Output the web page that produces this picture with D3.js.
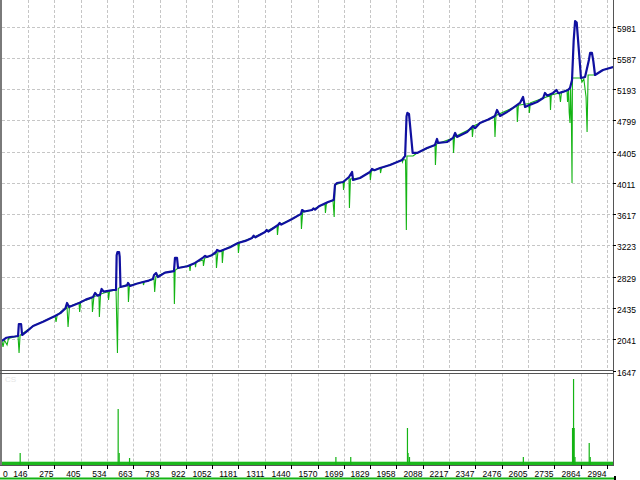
<!DOCTYPE html>
<html><head><meta charset="utf-8">
<script src="https://cdn.jsdelivr.net/npm/d3@7"></script>
<style>
html,body{margin:0;padding:0;background:#fff;}
svg{display:block;}
text{font-family:"Liberation Sans",Arial,sans-serif;font-size:8.5px;fill:#000;}
</style></head><body>
<svg id="c" width="640" height="480"></svg>
<script>
// ---- data ----
const xTickLabels = [0,146,275,405,534,663,793,922,1052,1181,1311,1440,1570,1699,1829,1958,2088,2217,2347,2476,2605,2735,2864,2994];
const yTickLabels = [1647,2041,2435,2829,3223,3617,4011,4405,4799,5193,5587,5981];

// balance (blue) : [trade, value]
const blueLine = [
 [18,2019],[40,2060],[58,2069],[80,2075],[97,2082],[101,2233],[112,2233],[117,2094],[140,2140],[171,2208],[220,2260],[279,2334],
 [305,2370],[330,2430],[338,2498],[348,2447],[400,2500],[430,2540],
 [466,2573],[476,2624],[488,2590],[500,2600],[508,2674],[518,2640],[564,2661],[579,2661],[582,3100],[586,3140],[594,3140],
 [597,3080],[601,2699],[633,2720],[638,2750],[648,2712],[680,2740],[712,2762],[740,2780],[760,2800],[766,2850],[776,2876],[785,2825],[820,2880],
 [864,2900],[869,3065],[879,3065],[884,2938],[930,2960],[968,3002],[1007,3070],[1017,3090],[1025,3077],[1050,3100],[1071,3140],[1076,3166],
 [1090,3150],[1105,3166],[1140,3200],[1179,3254],[1215,3280],[1248,3317],[1256,3345],[1265,3325],[1312,3392],[1320,3418],[1328,3398],
 [1376,3480],[1384,3505],[1392,3485],[1445,3556],[1489,3620],[1494,3669],[1505,3650],
 [1543,3669],[1550,3690],[1558,3675],[1580,3720],[1622,3770],[1650,3795],[1656,3984],[1666,4009],[1696,4022],[1725,4085],[1740,4148],[1745,4047],
 [1779,4072],[1828,4148],[1838,4186],[1850,4170],[1878,4198],[1927,4236],[1986,4299],[2001,4350],[2008,4850],[2012,4892],
 [2020,4880],[2038,4388],[2060,4388],[2109,4451],[2148,4489],[2158,4564],[2163,4514],[2207,4526],[2237,4577],[2247,4640],
 [2256,4590],[2306,4652],[2335,4728],[2345,4700],[2369,4766],[2410,4810],[2443,4854],[2453,4929],[2468,4854],[2500,4900],[2532,4955],[2566,5018],
 [2581,5093],[2591,4967],[2620,5000],[2650,5030],[2680,5080],[2689,5144],[2700,5110],[2729,5144],[2745,5181],[2755,5140],[2780,5160],[2802,5181],
 [2812,5207],[2822,5307],[2830,5800],[2837,6050],[2845,6030],[2855,5700],[2866,5332],[2886,5345],[2905,5560],[2911,5648],
 [2920,5648],[2927,5540],[2935,5370],[2974,5433],[3024,5471]
];

// equity (green) : [trade, value]
const greenLine = [
 [18,2019],[23,1943],[30,2030],[43,1968],[50,2050],[97,2082],[102,1868],[107,2090],[171,2208],[279,2334],[284,2259],[290,2350],
 [338,2447],[343,2195],[350,2455],[397,2500],[400,2384],[405,2510],[461,2560],[463,2384],[470,2575],[495,2600],[497,2321],
 [503,2610],[540,2640],[542,2535],[547,2645],[579,2661],[586,1868],[590,2680],[601,2699],[638,2730],[640,2510],[645,2720],
 [712,2762],[714,2724],[718,2765],[766,2800],[769,2636],[775,2830],[820,2880],[864,2900],[866,2485],[870,2910],[884,2938],
 [940,2970],[943,2900],[946,2975],[968,3002],[970,2950],[973,3010],[1007,3040],[1009,2964],[1015,3060],[1071,3120],[1073,2940],[1080,3140],[1100,3150],[1102,3002],[1107,3166],
 [1179,3254],[1181,3128],[1186,3260],[1248,3317],[1312,3392],[1371,3470],[1373,3354],[1378,3480],[1445,3556],[1489,3620],
 [1491,3430],[1497,3640],[1543,3669],[1592,3732],[1607,3740],[1609,3632],[1614,3755],[1646,3795],[1652,3581],[1656,3984],
 [1696,4022],[1698,3921],[1703,4030],[1725,4085],[1727,3695],[1732,4060],[1779,4072],[1828,4148],[1830,4047],[1835,4160],
 [1878,4198],[1880,4135],[1885,4200],[1986,4299],[1988,4274],[1992,4305],[2003,4300],[2005,3900],[2007,3417],[2010,4350],
 [2040,4350],[2060,4388],[2148,4489],[2150,4236],[2155,4500],[2237,4577],[2239,4388],[2244,4590],[2330,4700],[2332,4590],
 [2337,4728],[2440,4840],[2443,4590],[2448,4860],[2551,4980],[2553,4778],[2558,4990],[2610,5010],[2612,4892],[2617,5020],
 [2714,5110],[2716,4929],[2720,5120],[2760,5144],[2765,5030],[2770,5150],[2797,5181],[2800,5030],[2805,5190],[2808,4900],
 [2812,4766],[2815,5200],[2819,4800],[2822,4009],[2824,5332],[2866,5332],[2871,5282],[2880,5320],[2891,5093],[2896,4652],
 [2901,5370],[2935,5370],[2974,5433],[3024,5471]
];

// lower panel bars
const barTrades = [107,589,594,645,1660,1733,2012,2015,2022,2582,2824,2827,2829,2832,2836,2906,2911];
const barValues = [12,56,12,7,8,8,37,12,8,8,37,37,86,37,8,22,8];

// ---- drawing ----
const svg = d3.select("#c");
const mainTop = 0, mainBottom = 370.5, subTop = 373.5, subBottom = 465, plotLeft = 2, plotRight = 613;

const x = d3.scaleLinear().domain([146, 2994]).range([28, 607]);
const y = d3.scaleLinear().domain([1647, 5981]).range([370.5, 26.5]);
const yb = d3.scaleLinear().domain([0, 92]).range([subBottom, subBottom - 92]);

const gridColor = "#c6c6c6";
svg.append("g").selectAll("line").data(yTickLabels.slice(1)).join("line")
  .attr("x1", plotLeft).attr("x2", plotRight)
  .attr("y1", d => Math.round(y(d)) + 0.5).attr("y2", d => Math.round(y(d)) + 0.5)
  .attr("stroke", gridColor).attr("stroke-dasharray", "3,2");
const vx = xTickLabels.filter(d => x(d) > plotLeft + 2);
svg.append("g").selectAll("line").data(vx).join("line")
  .attr("x1", d => Math.round(x(d)) + 0.5).attr("x2", d => Math.round(x(d)) + 0.5)
  .attr("y1", mainTop).attr("y2", mainBottom)
  .attr("stroke", gridColor).attr("stroke-dasharray", "3,2");
svg.append("g").selectAll("line").data(vx).join("line")
  .attr("x1", d => Math.round(x(d)) + 0.5).attr("x2", d => Math.round(x(d)) + 0.5)
  .attr("y1", subTop).attr("y2", subBottom)
  .attr("stroke", gridColor).attr("stroke-dasharray", "3,2");

svg.append("clipPath").attr("id", "mc").append("rect")
  .attr("x", plotLeft).attr("y", mainTop).attr("width", plotRight - plotLeft).attr("height", mainBottom - mainTop);

const line = d3.line().x(d => x(d[0])).y(d => y(d[1]));
const gm = svg.append("g").attr("clip-path", "url(#mc)");
gm.append("path").datum(greenLine).attr("d", line)
  .attr("fill", "none").attr("stroke", "#14b414").attr("stroke-width", 1.1);
gm.append("path").datum(blueLine).attr("d", line)
  .attr("fill", "none").attr("stroke", "#1010a0").attr("stroke-width", 2.2).attr("stroke-linejoin", "round");

svg.append("rect").attr("x", plotLeft).attr("y", subBottom - 3.3).attr("width", plotRight - plotLeft).attr("height", 3.3)
  .attr("fill", "#1cb81c");
svg.append("g").selectAll("rect").data(barTrades.map((t, i) => [t, barValues[i]])).join("rect")
  .attr("x", d => x(d[0]) - 0.5).attr("width", 1.2)
  .attr("y", d => yb(d[1])).attr("height", d => subBottom - yb(d[1]))
  .attr("fill", "#14b414");

svg.append("text").attr("x", 5).attr("y", 382).text("CS").style("fill", "#e4e4e4").style("font-size", "8px");

const borderColor = "#555";
svg.append("rect").attr("x", 0).attr("y", 0).attr("width", 2).attr("height", subBottom + 1).attr("fill", "#7a7a7a");
svg.append("line").attr("x1", plotRight + 0.5).attr("x2", plotRight + 0.5).attr("y1", 0).attr("y2", subBottom + 1)
  .attr("stroke", borderColor);
svg.append("line").attr("x1", 0).attr("x2", plotRight + 1).attr("y1", 370.5).attr("y2", 370.5).attr("stroke", borderColor);
svg.append("line").attr("x1", 0).attr("x2", plotRight + 1).attr("y1", 373.5).attr("y2", 373.5).attr("stroke", borderColor);
svg.append("line").attr("x1", 0).attr("x2", plotRight + 1).attr("y1", subBottom + 0.5).attr("y2", subBottom + 0.5)
  .attr("stroke", borderColor);

const yl = svg.append("g");
yTickLabels.forEach(v => {
  const yy = Math.round(y(v)) + 0.5;
  yl.append("line").attr("x1", plotRight).attr("x2", plotRight + 3).attr("y1", yy).attr("y2", yy).attr("stroke", "#000");
  yl.append("text").attr("x", 617).attr("y", yy + 4).text(v);
});
const xl = svg.append("g");
xTickLabels.forEach(v => {
  const xx = Math.round(x(v)) + 0.5;
  if (xx > plotLeft + 2) {
    xl.append("line").attr("x1", xx).attr("x2", xx).attr("y1", subBottom).attr("y2", subBottom + 4).attr("stroke", "#000");
    xl.append("text").attr("x", xx - 1).attr("y", 477).attr("text-anchor", "end").text(v);
  } else {
    xl.append("text").attr("x", 3).attr("y", 477).text(v);
  }
});
svg.append("rect").attr("x", 0).attr("y", 477.5).attr("width", 614).attr("height", 2).attr("fill", "#14b414");
svg.append("rect").attr("x", 614).attr("y", 476).attr("width", 2).attr("height", 4).attr("fill", "#000");
</script>
</body></html>
